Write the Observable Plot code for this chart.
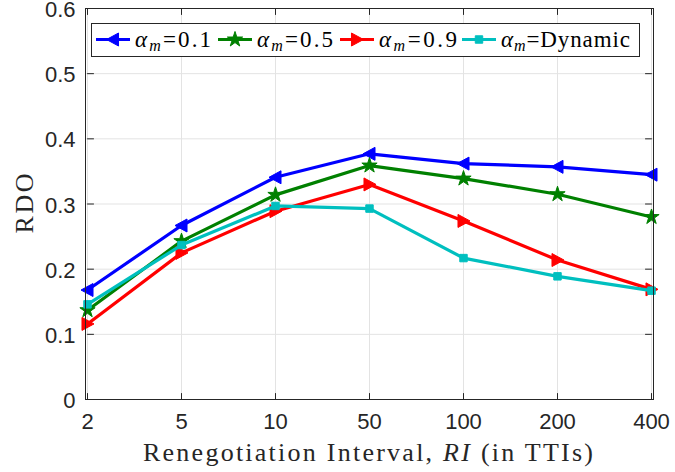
<!DOCTYPE html>
<html><head><meta charset="utf-8">
<script src="https://cdn.jsdelivr.net/npm/d3@7"></script>
<script src="https://cdn.jsdelivr.net/npm/@observablehq/plot@0.6"></script>
<style>body{margin:0;background:#fff}#chart{width:675px;height:472px}</style>
</head><body><div id="chart"></div>
<script>
// ---- data ----
const intervals = ["2","5","10","50","100","200","400"];
const yTicks = [0,0.1,0.2,0.3,0.4,0.5,0.6];
const seriesKeys = ["0.1","0.5","0.9","Dynamic"];
const rdoAlpha01 = [0.168,0.267,0.341,0.377,0.362,0.357,0.345];
const rdoAlpha05 = [0.137,0.243,0.314,0.359,0.339,0.315,0.280];
const rdoAlpha09 = [0.116,0.225,0.289,0.330,0.274,0.214,0.169];
const rdoDynamic = [0.146,0.237,0.297,0.293,0.217,0.189,0.167];
const xTitle = ["Renegotiation Interval, ", "RI", " (in TTIs)"];
const yTitle = "RDO";

// ---- styles ----
const seriesValues = [rdoAlpha01, rdoAlpha05, rdoAlpha09, rdoDynamic];
const seriesColors = ["#0000ff","#008000","#ff0000","#00bfbf"];
const triLeft = {draw(ctx, size){const r=Math.sqrt(size/Math.PI); ctx.moveTo(-r,0); ctx.lineTo(r*0.85,-r); ctx.lineTo(r*0.85,r); ctx.closePath();}};
const triRight = {draw(ctx, size){const r=Math.sqrt(size/Math.PI); ctx.moveTo(r,0); ctx.lineTo(-r*0.85,-r); ctx.lineTo(-r*0.85,r); ctx.closePath();}};
const seriesSymbols = [triLeft, d3.symbolStar, triRight, d3.symbolSquare];
const seriesR = [6.5, 4.8, 6.5, 4.2];
const tickShape = {draw(ctx, l){ctx.moveTo(0,0); ctx.lineTo(0,-l);}};
const axisColor = "#262626";
const gridColor = "#e3e3e3";

const rows = [];
seriesKeys.forEach((k,i)=> intervals.forEach((x,j)=> rows.push({series:k, ri:x, rdo:seriesValues[i][j]})));

const seriesMarks = seriesKeys.flatMap((k,i)=>{
  const d = rows.filter(r=>r.series===k);
  return [
    Plot.line(d, {x:"ri", y:"rdo", stroke:seriesColors[i], strokeWidth:3.2}),
    Plot.dot(d, {x:"ri", y:"rdo", symbol:seriesSymbols[i], r:seriesR[i], fill:seriesColors[i], stroke:seriesColors[i], strokeWidth:1})
  ];
});

const tk = {length:6, anchor:"start", shape:tickShape, stroke:axisColor, strokeWidth:1};
const svg = Plot.plot({
  width:675, height:472,
  marginLeft:85, marginRight:22, marginTop:8, marginBottom:73,
  style:{fontFamily:"'Liberation Sans', Arial, sans-serif", fontSize:"22px", color:axisColor, background:"#fff"},
  x:{type:"point", domain:intervals, padding:0},
  y:{domain:[0,0.6]},
  marks:[
    Plot.gridX(intervals, {stroke:gridColor, strokeOpacity:1}),
    Plot.gridY(yTicks, {stroke:gridColor, strokeOpacity:1}),
    ...seriesMarks,
    Plot.frame({stroke:axisColor, strokeWidth:1}),
    Plot.vector(intervals, {x:d=>d, y:()=>0, rotate:0, ...tk}),
    Plot.vector(intervals, {x:d=>d, y:()=>0.6, rotate:180, ...tk}),
    Plot.vector(yTicks, {x:()=>intervals[0], y:d=>d, rotate:90, ...tk}),
    Plot.vector(yTicks, {x:()=>intervals[intervals.length-1], y:d=>d, rotate:-90, ...tk}),
    Plot.axisX(intervals, {tickSize:0, tickPadding:14, label:null, fontSize:22}),
    Plot.axisY(yTicks, {tickSize:0, tickPadding:10, dy:1.5, label:null, fontSize:22, tickFormat:d=> d===0 ? "0" : d.toFixed(1)})
  ]
});
document.getElementById("chart").appendChild(svg);

const S = d3.select(svg);
const serif = "'Liberation Serif', 'Times New Roman', serif";
// x title
const xt = S.append("text").attr("x",368).attr("y",461).attr("text-anchor","middle")
  .attr("font-family",serif).attr("font-size",26).attr("fill",axisColor)
  .attr("textLength",450).attr("lengthAdjust","spacing");
xt.append("tspan").text(xTitle[0]);
xt.append("tspan").attr("font-style","italic").text(xTitle[1]);
xt.append("tspan").text(xTitle[2]);
// y title
S.append("text").attr("transform","translate(33,203.5) rotate(-90)").attr("text-anchor","middle")
  .attr("font-family",serif).attr("font-size",26).attr("fill",axisColor)
  .attr("textLength",60).attr("lengthAdjust","spacing").text(yTitle);

// legend
const lg = S.append("g").attr("text-anchor","start");
lg.append("rect").attr("x",91.5).attr("y",23.5).attr("width",548).attr("height",33)
  .attr("fill","#fff").attr("stroke",axisColor).attr("stroke-width",1);
const itemX = [96, 218, 340, 462];
const itemW = [76, 76, 78, 129];
seriesKeys.forEach((k,i)=>{
  const x0 = itemX[i], ly = 39.5;
  lg.append("line").attr("x1",x0).attr("x2",x0+34).attr("y1",ly).attr("y2",ly)
    .attr("stroke",seriesColors[i]).attr("stroke-width",3.2);
  const size = seriesR[i]*seriesR[i]*Math.PI;
  lg.append("path").attr("d", d3.symbol().type(seriesSymbols[i]).size(size)())
    .attr("transform",`translate(${x0+17},${ly})`).attr("fill",seriesColors[i]).attr("stroke",seriesColors[i]);
  const t = lg.append("text").attr("x",x0+39).attr("y",46.5).attr("text-anchor","start")
    .attr("font-family",serif).attr("font-size",23).attr("fill","#000")
    .attr("textLength",itemW[i]).attr("lengthAdjust","spacing");
  t.append("tspan").attr("font-style","italic").text("α");
  t.append("tspan").attr("font-style","italic").attr("font-size",16).attr("dy",4).text("m");
  t.append("tspan").attr("dy",-4).text("=" + k);
});
</script></body></html>
